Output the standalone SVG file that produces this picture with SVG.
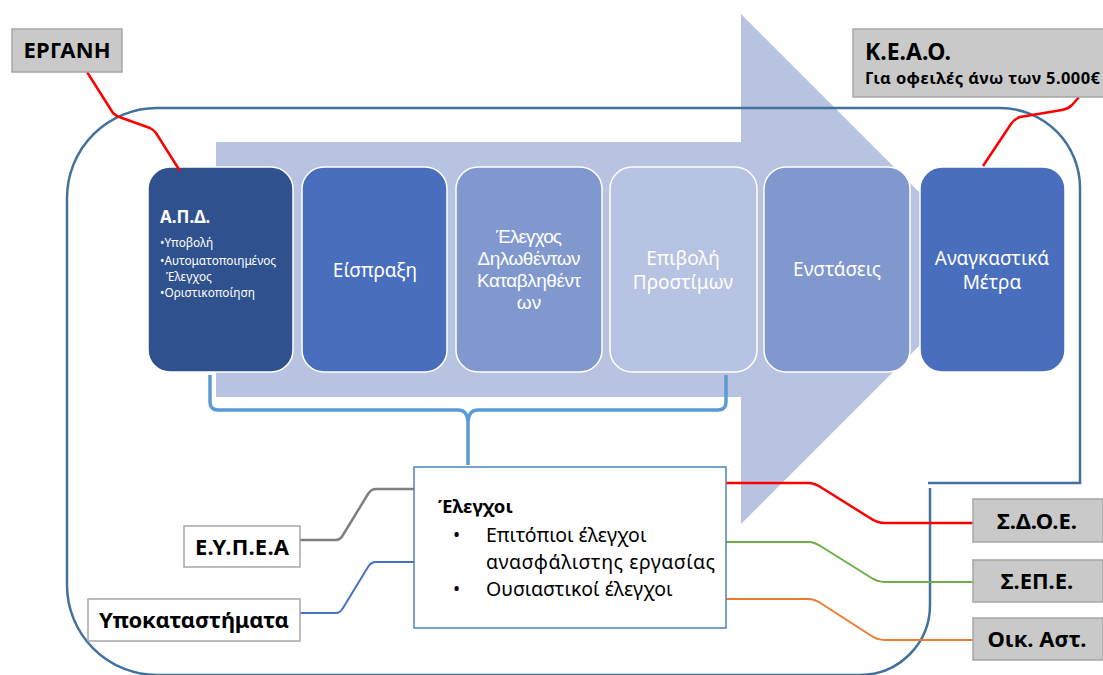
<svg xmlns="http://www.w3.org/2000/svg" width="1103" height="675" viewBox="0 0 1103 675">
<style>
.t{font-family:"Noto Sans","DejaVu Sans",sans-serif;}
.ls{font-family:"Liberation Sans","DejaVu Sans",sans-serif;}
.b{font-weight:bold;}
.node{stroke:#FFFFFF;stroke-width:1.5;}
.wt{fill:#FFFFFF;font-size:19px;text-anchor:middle;}
.gbox{fill:#C9C9C9;stroke:#A6A6A6;stroke-width:1.5;}
.wbox{fill:#FFFFFF;stroke:#A6A6A6;stroke-width:1.5;}
.lbl{fill:#000000;font-size:22px;font-weight:bold;text-anchor:middle;}
.ln{fill:none;stroke-linejoin:round;}
</style>
<g id="arrow">
<path d="M216,142 H741 V14 L996,269 L741,524 V397 H216 Z" fill="#B8C3E1"/>
</g>
<g id="outline">
<path d="M928,483 H1080 V188 A80 80 0 0 0 1000,108 H157 A90 90 0 0 0 67,198 V585 A90 90 0 0 0 157,675 H860 A70 70 0 0 0 930,605 V488" fill="none" stroke="#41719C" stroke-width="2.5"/>
</g>
<g id="node-apd">
<rect class="node" x="148" y="167" width="145" height="205" rx="22" fill="#2F528F"/>
<text class="t b" x="160" y="223" font-size="17" fill="#FFFFFF">Α.Π.Δ.</text>
<text class="t" font-size="11.8" fill="#FFFFFF">
<tspan x="160" y="247">•Υποβολή</tspan>
<tspan x="160" y="265">•Αυτοματοποιημένος</tspan>
<tspan x="166" y="281">Έλεγχος</tspan>
<tspan x="160" y="297">•Οριστικοποίηση</tspan>
</text>
</g>
<g id="node-eispraxi">
<rect class="node" x="302" y="167" width="145" height="205" rx="22" fill="#4A6EBE"/>
<text class="t wt" x="375" y="277" font-size="20">Είσπραξη</text>
</g>
<g id="node-elegxos">
<rect class="node" x="456" y="167" width="146" height="205" rx="22" fill="#8198CF"/>
<text class="ls wt" font-size="17"><tspan x="529" y="243" textLength="66">Έλεγχος</tspan><tspan x="529" y="265" textLength="103">Δηλωθέντων</tspan><tspan x="529" y="287" textLength="104">Καταβληθέντ</tspan><tspan x="529" y="309">ων</tspan></text>
</g>
<g id="node-prostima">
<rect class="node" x="610" y="167" width="147" height="205" rx="22" fill="#B7C3E2"/>
<text class="t wt"><tspan x="683" y="265">Επιβολή</tspan><tspan x="683" y="289">Προστίμων</tspan></text>
</g>
<g id="node-enstaseis">
<rect class="node" x="764" y="167" width="146" height="205" rx="22" fill="#8198CF"/>
<text class="t wt" x="837" y="276">Ενστάσεις</text>
</g>
<g id="node-metra">
<rect class="node" x="920" y="167" width="145" height="205" rx="22" fill="#4A6EBE"/>
<text class="t wt"><tspan x="992" y="265">Αναγκαστικά</tspan><tspan x="992" y="289">Μέτρα</tspan></text>
</g>
<g id="connectors">
<path class="ln" d="M87,72 L113,113 Q117,117 122,118 L150,128 Q154,130 156,133 L180,171" stroke="#FF0000" stroke-width="2.5"/>
<path class="ln" d="M1079,97 L1072,105 Q1068,109 1062,110 L1020,117 Q1014,119 1011,124 L983,166" stroke="#FF0000" stroke-width="2.5"/>
<path class="ln" d="M210,375 V402 Q210,410 218,410 H458 Q467,410 468,421 V465 M726,375 V402 Q726,410 718,410 H478 Q469,410 468,421" stroke="#5B9BD5" stroke-width="3.5"/>
<path class="ln" d="M726,483 H808 Q815,483 822,488 L870,518 Q877,523 885,523 H973" stroke="#FF0000" stroke-width="2.5"/>
<path class="ln" d="M726,542 H808 Q815,542 822,547 L870,577 Q877,582 885,582 H973" stroke="#70AD47" stroke-width="2"/>
<path class="ln" d="M726,599 H808 Q815,599 822,604 L870,635 Q877,640 885,640 H973" stroke="#ED7D31" stroke-width="2"/>
<path class="ln" d="M300,540 H336 Q340,540 343,535 L368,494 Q371,489 376,489 H414" stroke="#7F7F7F" stroke-width="2.5"/>
<path class="ln" d="M300,613 H336 Q340,613 343,608 L368,567 Q371,562 376,562 H414" stroke="#4472C4" stroke-width="2"/>
</g>
<g id="node-ergani">
<rect class="gbox" x="12" y="29" width="110" height="43"/>
<text class="t lbl" x="67" y="58" textLength="87">ΕΡΓΑΝΗ</text>
</g>
<g id="node-keao">
<rect class="gbox" x="853" y="29" width="252" height="68"/>
<text class="t b" x="865" y="60" font-size="23" fill="#000000">Κ.Ε.Α.Ο.</text>
<text class="t b" x="865" y="84" font-size="16.5" fill="#000000" textLength="235">Για οφειλές άνω των 5.000€</text>
</g>
<g id="node-elegxoi">
<rect x="414" y="467" width="312" height="161" fill="#FFFFFF" stroke="#4F81BD" stroke-width="1.5"/>
<text class="t b" x="438" y="513" font-size="18.5" fill="#000000">Έλεγχοι</text>
<text class="t" font-size="19" fill="#000000">
<tspan x="453" y="542">•</tspan>
<tspan x="453" y="596">•</tspan>
</text>
<text class="t" font-size="19.5" fill="#000000">
<tspan x="486" y="542">Επιτόπιοι έλεγχοι</tspan>
<tspan x="486" y="569" textLength="229">ανασφάλιστης εργασίας</tspan>
<tspan x="486" y="596">Ουσιαστικοί έλεγχοι</tspan>
</text>
</g>
<g id="node-eypea">
<rect class="wbox" x="184" y="526" width="116" height="41"/>
<text class="t lbl" x="242" y="555" textLength="94">Ε.Υ.Π.Ε.Α</text>
</g>
<g id="node-ypokatastimata">
<rect class="wbox" x="88" y="599" width="212" height="42"/>
<text class="t lbl" x="194" y="628" textLength="190">Υποκαταστήματα</text>
</g>
<g id="node-sdoe">
<rect class="gbox" x="973" y="499" width="130" height="43"/>
<text class="t lbl" x="1037" y="529">Σ.Δ.Ο.Ε.</text>
</g>
<g id="node-sepe">
<rect class="gbox" x="973" y="560" width="130" height="42"/>
<text class="t lbl" x="1037" y="589">Σ.ΕΠ.Ε.</text>
</g>
<g id="node-oikast">
<rect class="gbox" x="973" y="618" width="130" height="42"/>
<text class="t lbl" x="1037" y="647">Οικ. Αστ.</text>
</g>
</svg>
